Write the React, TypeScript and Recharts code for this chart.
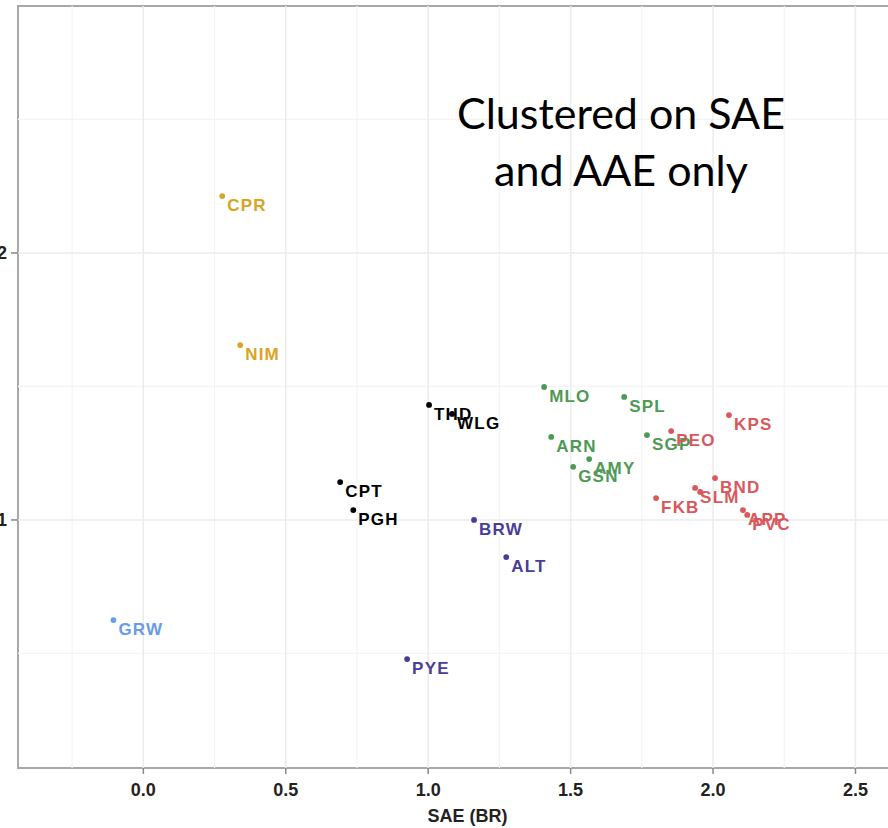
import React from "react";
import {
  ScatterChart,
  Scatter,
  XAxis,
  YAxis,
  ReferenceLine,
  ReferenceArea,
} from "recharts";

// ---- data ----
const stations = ["CPR", "NIM", "THD", "WLG", "CPT", "PGH", "MLO", "SPL", "ARN", "SGP", "AMY", "GSN", "PEO", "KPS", "BND", "SLM", "", "FKB", "APP", "PVC", "BRW", "ALT", "PYE", "GRW"];
const saeValues = [0.277, 0.34, 1.003, 1.084, 0.691, 0.737, 1.407, 1.688, 1.432, 1.768, 1.565, 1.509, 1.853, 2.056, 2.007, 1.937, 1.955, 1.8, 2.105, 2.12, 1.161, 1.274, 0.926, -0.105];
const aaeValues = [2.213, 1.655, 1.431, 1.397, 1.142, 1.037, 1.498, 1.461, 1.311, 1.318, 1.228, 1.199, 1.333, 1.393, 1.157, 1.12, 1.105, 1.082, 1.037, 1.019, 1.0, 0.861, 0.479, 0.625];
const clusters = [1, 1, 2, 2, 2, 2, 3, 3, 3, 3, 3, 3, 4, 4, 4, 4, 4, 4, 4, 4, 5, 5, 5, 6];

const clusterIds = [1, 2, 3, 4, 5, 6];
const clusterColors = ["#DAA421", "#000000", "#4E9A55", "#D8585B", "#4A3D97", "#6A9BEB"];

const xTicks = [0, 0.5, 1, 1.5, 2, 2.5];
const xMinor = [-0.25, 0.25, 0.75, 1.25, 1.75, 2.25];
const yTicks = [1, 2];
const yMinor = [0.5, 1.5, 2.5];
const xDomain = [-0.44, 2.716];
const yDomain = [0.071, 2.925];

const seriesData = clusterIds.map((c) =>
  stations
    .map((label, i) => ({ label, x: saeValues[i], y: aaeValues[i], c: clusters[i] }))
    .filter((d) => d.c === c)
);

const FONT = "'Liberation Sans', Arial, sans-serif";

const PointWithLabel = (props: any) => {
  const { cx, cy, payload, fill } = props;
  if (cx == null || cy == null) return null;
  return (
    <g>
      <circle cx={cx} cy={cy} r={2.9} fill={fill} />
      {payload.label ? (
        <text
          x={cx + 5}
          y={cy + 15}
          fill={fill}
          fontFamily={FONT}
          fontWeight="bold"
          fontSize={17}
          letterSpacing={1.2}
        >
          {payload.label}
        </text>
      ) : null}
    </g>
  );
};

const XTick = (props: any) => {
  const { x, y, payload } = props;
  return (
    <text
      x={x}
      y={y + 22}
      textAnchor="middle"
      fill="#222"
      fontFamily={FONT}
      fontWeight="bold"
      fontSize={18}
    >
      {Number(payload.value).toFixed(1)}
    </text>
  );
};

const YTick = (props: any) => {
  const { x, y, payload } = props;
  return (
    <text
      x={x - 4}
      y={y + 6}
      textAnchor="end"
      fill="#222"
      fontFamily={FONT}
      fontWeight="bold"
      fontSize={18}
    >
      {payload.value}
    </text>
  );
};

export default function App() {
  return (
    <div
      style={{
        position: "absolute",
        left: 0,
        top: 0,
        width: 888,
        height: 828,
        overflow: "hidden",
        background: "#fff",
      }}
    >
      <ScatterChart
        width={925}
        height={828}
        margin={{ top: 6, right: 8, bottom: 0, left: 0 }}
      >
        {xMinor.map((v) => (
          <ReferenceLine key={"xm" + v} x={v} stroke="#F4F4F4" strokeWidth={1.2} />
        ))}
        {yMinor.map((v) => (
          <ReferenceLine key={"ym" + v} y={v} stroke="#F4F4F4" strokeWidth={1.2} />
        ))}
        {xTicks.map((v) => (
          <ReferenceLine key={"xM" + v} x={v} stroke="#EBEBEB" strokeWidth={1.5} />
        ))}
        {yTicks.map((v) => (
          <ReferenceLine key={"yM" + v} y={v} stroke="#EBEBEB" strokeWidth={1.5} />
        ))}
        <XAxis
          type="number"
          dataKey="x"
          domain={xDomain}
          ticks={xTicks}
          allowDataOverflow
          height={60}
          tickSize={6}
          tickMargin={0}
          axisLine={false}
          tickLine={{ stroke: "#888", strokeWidth: 1.5 }}
          tick={<XTick />}
          label={{
            value: "SAE (BR)",
            position: "insideBottom",
            offset: 6,
            fill: "#222",
            fontSize: 18,
            fontWeight: "bold",
            fontFamily: FONT,
          }}
        />
        <YAxis
          type="number"
          dataKey="y"
          domain={yDomain}
          ticks={yTicks}
          allowDataOverflow
          width={18}
          tickSize={7}
          tickMargin={0}
          axisLine={false}
          tickLine={{ stroke: "#888", strokeWidth: 1.5 }}
          tick={<YTick />}
        />
        <ReferenceArea
          x1={xDomain[0]}
          x2={xDomain[1]}
          y1={yDomain[0]}
          y2={yDomain[1]}
          fill="none"
          fillOpacity={0}
          stroke="#A8A8A8"
          strokeWidth={2}
          ifOverflow="visible"
        />
        {seriesData.map((d, i) => (
          <Scatter
            key={i}
            data={d}
            fill={clusterColors[i]}
            shape={PointWithLabel}
            isAnimationActive={false}
          />
        ))}
      </ScatterChart>
      <div
        style={{
          position: "absolute",
          left: 371,
          top: 84,
          width: 500,
          textAlign: "center",
          fontFamily: "Lato, 'Open Sans', sans-serif",
          fontSize: 43,
          lineHeight: "57px",
          color: "#000",
        }}
      >
        Clustered on SAE
        <br />
        and AAE only
      </div>
    </div>
  );
}
